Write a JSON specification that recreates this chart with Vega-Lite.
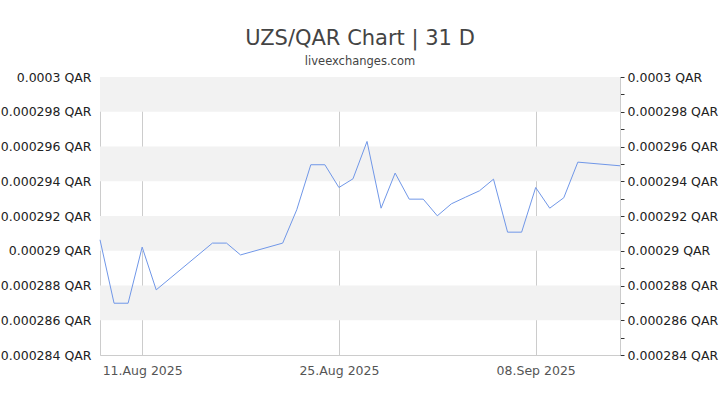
{
  "$schema": "https://vega.github.io/schema/vega-lite/v6.json",
  "autosize": {"type": "none"},
  "padding": {"left": 100, "top": 77, "right": 100, "bottom": 50},
  "width": 520,
  "height": 278,
  "background": "white",
  "config": {
    "font": "DejaVu Sans",
    "view": {"stroke": "#cccccc"}
  },
  "title": {
    "text": "UZS/QAR Chart | 31 D",
    "subtitle": "liveexchanges.com",
    "anchor": "middle",
    "frame": "group",
    "fontSize": 21,
    "fontWeight": "normal",
    "color": "#444444",
    "subtitleFontSize": 11.5,
    "subtitleColor": "#444444",
    "subtitlePadding": 7,
    "offset": 4
  },
  "datasets": {
    "rates": [
      {"date": "2025-08-08", "rate": 0.00029063},
      {"date": "2025-08-09", "rate": 0.00028698},
      {"date": "2025-08-10", "rate": 0.00028698},
      {"date": "2025-08-11", "rate": 0.00029021},
      {"date": "2025-08-12", "rate": 0.00028775},
      {"date": "2025-08-16", "rate": 0.00029044},
      {"date": "2025-08-17", "rate": 0.00029044},
      {"date": "2025-08-18", "rate": 0.00028976},
      {"date": "2025-08-21", "rate": 0.00029044},
      {"date": "2025-08-22", "rate": 0.00029236},
      {"date": "2025-08-23", "rate": 0.00029495},
      {"date": "2025-08-24", "rate": 0.00029495},
      {"date": "2025-08-25", "rate": 0.00029364},
      {"date": "2025-08-26", "rate": 0.00029414},
      {"date": "2025-08-27", "rate": 0.00029629},
      {"date": "2025-08-28", "rate": 0.00029245},
      {"date": "2025-08-29", "rate": 0.00029447},
      {"date": "2025-08-30", "rate": 0.00029297},
      {"date": "2025-08-31", "rate": 0.00029297},
      {"date": "2025-09-01", "rate": 0.00029201},
      {"date": "2025-09-02", "rate": 0.0002927},
      {"date": "2025-09-03", "rate": 0.00029308},
      {"date": "2025-09-04", "rate": 0.00029345},
      {"date": "2025-09-05", "rate": 0.00029412},
      {"date": "2025-09-06", "rate": 0.00029107},
      {"date": "2025-09-07", "rate": 0.00029107},
      {"date": "2025-09-08", "rate": 0.00029364},
      {"date": "2025-09-09", "rate": 0.00029245},
      {"date": "2025-09-10", "rate": 0.00029305},
      {"date": "2025-09-11", "rate": 0.0002951},
      {"date": "2025-09-14", "rate": 0.00029489}
    ],
    "bands": [
      {"lo": 0.000298, "hi": 0.0003},
      {"lo": 0.000294, "hi": 0.000296},
      {"lo": 0.00029, "hi": 0.000292},
      {"lo": 0.000286, "hi": 0.000288}
    ]
  },
  "layer": [
    {
      "data": {"name": "bands"},
      "mark": {"type": "rect", "fill": "#f2f2f2"},
      "encoding": {
        "y": {
          "field": "lo",
          "type": "quantitative",
          "title": null,
          "scale": {"domain": [0.000284, 0.0003], "nice": false, "zero": false},
          "axis": {
            "orient": "left",
            "values": [0.000284, 0.000286, 0.000288, 0.00029, 0.000292, 0.000294, 0.000296, 0.000298, 0.0003],
            "labelExpr": "format(datum.value, '.6~f') + ' QAR'",
            "labelFontSize": 12.5,
            "labelColor": "#222222",
            "labelPadding": 9,
            "ticks": false,
            "grid": false,
            "domain": false
          }
        },
        "y2": {"field": "hi"}
      }
    },
    {
      "data": {"name": "rates"},
      "mark": {"type": "line", "stroke": "#7097e8", "strokeWidth": 1},
      "encoding": {
        "x": {
          "field": "date",
          "type": "temporal",
          "title": null,
          "scale": {
            "type": "utc",
            "domain": [
              {"year": 2025, "month": "aug", "date": 8, "utc": true},
              {"year": 2025, "month": "sep", "date": 14, "utc": true}
            ]
          },
          "axis": {
            "values": [
              {"year": 2025, "month": "aug", "date": 11, "utc": true},
              {"year": 2025, "month": "aug", "date": 25, "utc": true},
              {"year": 2025, "month": "sep", "date": 8, "utc": true}
            ],
            "labelExpr": "utcFormat(datum.value, '%d.%b %Y')",
            "labelFontSize": 12.5,
            "labelColor": "#555555",
            "labelPadding": 9,
            "ticks": false,
            "grid": true,
            "gridColor": "#cccccc",
            "domainColor": "#cccccc"
          }
        },
        "y": {
          "field": "rate",
          "type": "quantitative",
          "title": null,
          "axis": {
            "orient": "right",
            "values": [0.000284, 0.000285, 0.000286, 0.000287, 0.000288, 0.000289, 0.00029, 0.000291, 0.000292, 0.000293, 0.000294, 0.000295, 0.000296, 0.000297, 0.000298, 0.000299, 0.0003],
            "labelExpr": "round(datum.value * 1e6) % 2 == 0 ? format(datum.value, '.6~f') + ' QAR' : ''",
            "labelFontSize": 12.5,
            "labelColor": "#222222",
            "labelPadding": 3,
            "tickSize": 4,
            "tickColor": "#333333",
            "grid": false,
            "domainColor": "#cccccc"
          }
        }
      }
    }
  ],
  "resolve": {"axis": {"y": "independent"}}
}
